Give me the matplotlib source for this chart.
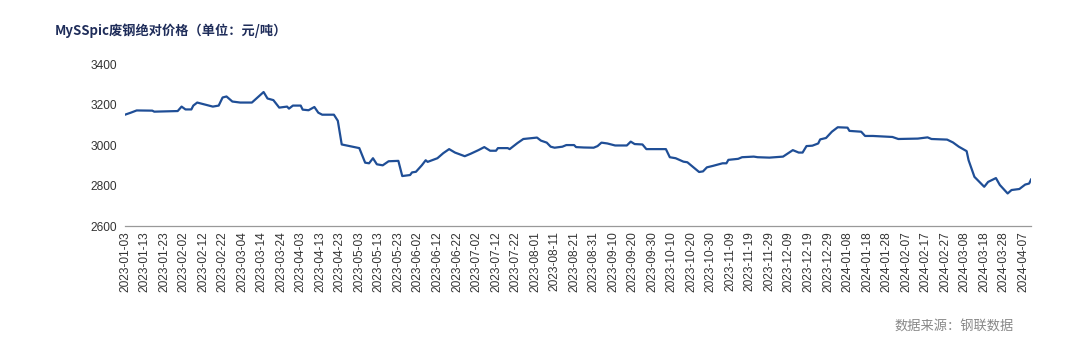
import matplotlib
matplotlib.use("Agg")
import matplotlib.pyplot as plt
import matplotlib.dates as mdates
import pandas as pd

plt.rcParams['font.family'] = ['Liberation Sans', 'Noto Sans CJK SC', 'DejaVu Sans']

title = "MySSpic废钢绝对价格（单位：元/吨）"
source = "数据来源：钢联数据"

dates = [
    "2023-01-03", "2023-01-06", "2023-01-09", "2023-01-17", "2023-01-18", "2023-01-30",
    "2023-02-01", "2023-02-03", "2023-02-06", "2023-02-07", "2023-02-09", "2023-02-17",
    "2023-02-20", "2023-02-22", "2023-02-24", "2023-02-27", "2023-03-03", "2023-03-09",
    "2023-03-15", "2023-03-17", "2023-03-20", "2023-03-23", "2023-03-27", "2023-03-28",
    "2023-03-30", "2023-04-03", "2023-04-04", "2023-04-07", "2023-04-10", "2023-04-12",
    "2023-04-14", "2023-04-20", "2023-04-22", "2023-04-24", "2023-05-03", "2023-05-06",
    "2023-05-08", "2023-05-10", "2023-05-12", "2023-05-15", "2023-05-18", "2023-05-23",
    "2023-05-25", "2023-05-29", "2023-05-30", "2023-06-01", "2023-06-04", "2023-06-06",
    "2023-06-07", "2023-06-12", "2023-06-15", "2023-06-18", "2023-06-21", "2023-06-26",
    "2023-06-29", "2023-07-03", "2023-07-06", "2023-07-09", "2023-07-12", "2023-07-13",
    "2023-07-18", "2023-07-19", "2023-07-23", "2023-07-26", "2023-07-29", "2023-08-02",
    "2023-08-04", "2023-08-07", "2023-08-09", "2023-08-11", "2023-08-15", "2023-08-17",
    "2023-08-21", "2023-08-22", "2023-08-26", "2023-08-31", "2023-09-02", "2023-09-04",
    "2023-09-07", "2023-09-11", "2023-09-17", "2023-09-19", "2023-09-21", "2023-09-25",
    "2023-09-27", "2023-10-07", "2023-10-09", "2023-10-12", "2023-10-16", "2023-10-18",
    "2023-10-24", "2023-10-26", "2023-10-28", "2023-10-31", "2023-11-05", "2023-11-07",
    "2023-11-08", "2023-11-13", "2023-11-15", "2023-11-21", "2023-11-23", "2023-11-29",
    "2023-12-06", "2023-12-11", "2023-12-14", "2023-12-16", "2023-12-18", "2023-12-21",
    "2023-12-24", "2023-12-25", "2023-12-28", "2023-12-31", "2024-01-03", "2024-01-08",
    "2024-01-09", "2024-01-15", "2024-01-17", "2024-01-21", "2024-01-31", "2024-02-03",
    "2024-02-13", "2024-02-18", "2024-02-20", "2024-02-28", "2024-03-02", "2024-03-05",
    "2024-03-09", "2024-03-10", "2024-03-13", "2024-03-18", "2024-03-20", "2024-03-24",
    "2024-03-26", "2024-03-30", "2024-04-01", "2024-04-05", "2024-04-08", "2024-04-10",
    "2024-04-11",
]
prices = [
    3150, 3160, 3171, 3170, 3165, 3168,
    3190, 3176, 3176, 3195, 3210, 3190,
    3195, 3235, 3240, 3215, 3210, 3210,
    3262, 3230, 3222, 3185, 3190, 3180,
    3195, 3195, 3175, 3172, 3188, 3160,
    3150, 3150, 3120, 3003, 2985, 2913,
    2910, 2935, 2905, 2900, 2920, 2922,
    2847, 2852, 2865, 2868, 2900, 2925,
    2917, 2935, 2960, 2980, 2963, 2945,
    2957, 2975, 2990, 2972, 2972, 2985,
    2985, 2980, 3010, 3030, 3033, 3037,
    3022, 3012, 2992, 2987, 2992, 3000,
    3000, 2990, 2988, 2987, 2995, 3012,
    3008, 2998, 2998, 3017, 3005, 3003,
    2980, 2980, 2940, 2935, 2918, 2915,
    2867, 2870, 2890, 2897, 2910, 2910,
    2927, 2932, 2940, 2943, 2940, 2938,
    2943, 2975, 2963, 2963, 2995, 2997,
    3008, 3028, 3035, 3066, 3088, 3086,
    3070, 3066, 3045, 3045, 3040, 3030,
    3032, 3038, 3030, 3027, 3013, 2992,
    2970, 2925, 2843, 2794, 2818, 2837,
    2803, 2761, 2778, 2783, 2805, 2810,
    2830,
]

x = pd.to_datetime(dates)
ticks = pd.date_range("2023-01-03", "2024-04-07", freq="10D")

fig = plt.figure(figsize=(10.8, 3.56), dpi=100)
ax = fig.add_axes([0.1157, 0.365, 0.839, 0.455])
ax.plot(x, prices, color='#1f4e96', linewidth=1.6)

ax.set_xlim(x[0], x[-1])
ax.set_ylim(2600, 3400)
ax.set_yticks([2600, 2800, 3000, 3200, 3400])
ax.set_xticks(ticks)
ax.xaxis.set_major_formatter(mdates.DateFormatter('%Y-%m-%d'))
ax.tick_params(axis='x', rotation=90, length=0, pad=4, labelsize=8.6, colors='#333333')
ax.tick_params(axis='y', length=0, pad=6, labelsize=8.6, colors='#333333')

for s in ['top', 'right', 'left']:
    ax.spines[s].set_visible(False)
ax.spines['bottom'].set_color('#999999')
ax.spines['bottom'].set_linewidth(0.9)

fig.text(0.051, 0.913, title, fontsize=9.5, fontweight='bold', color='#1f2d5a',
         family=['Noto Sans CJK SC', 'DejaVu Sans'], va='center')
fig.text(0.828, 0.08, source, fontsize=9.5, color='#888888',
         family=['Noto Sans CJK SC', 'DejaVu Sans'], va='center')

fig.savefig('out.png', dpi=100)
